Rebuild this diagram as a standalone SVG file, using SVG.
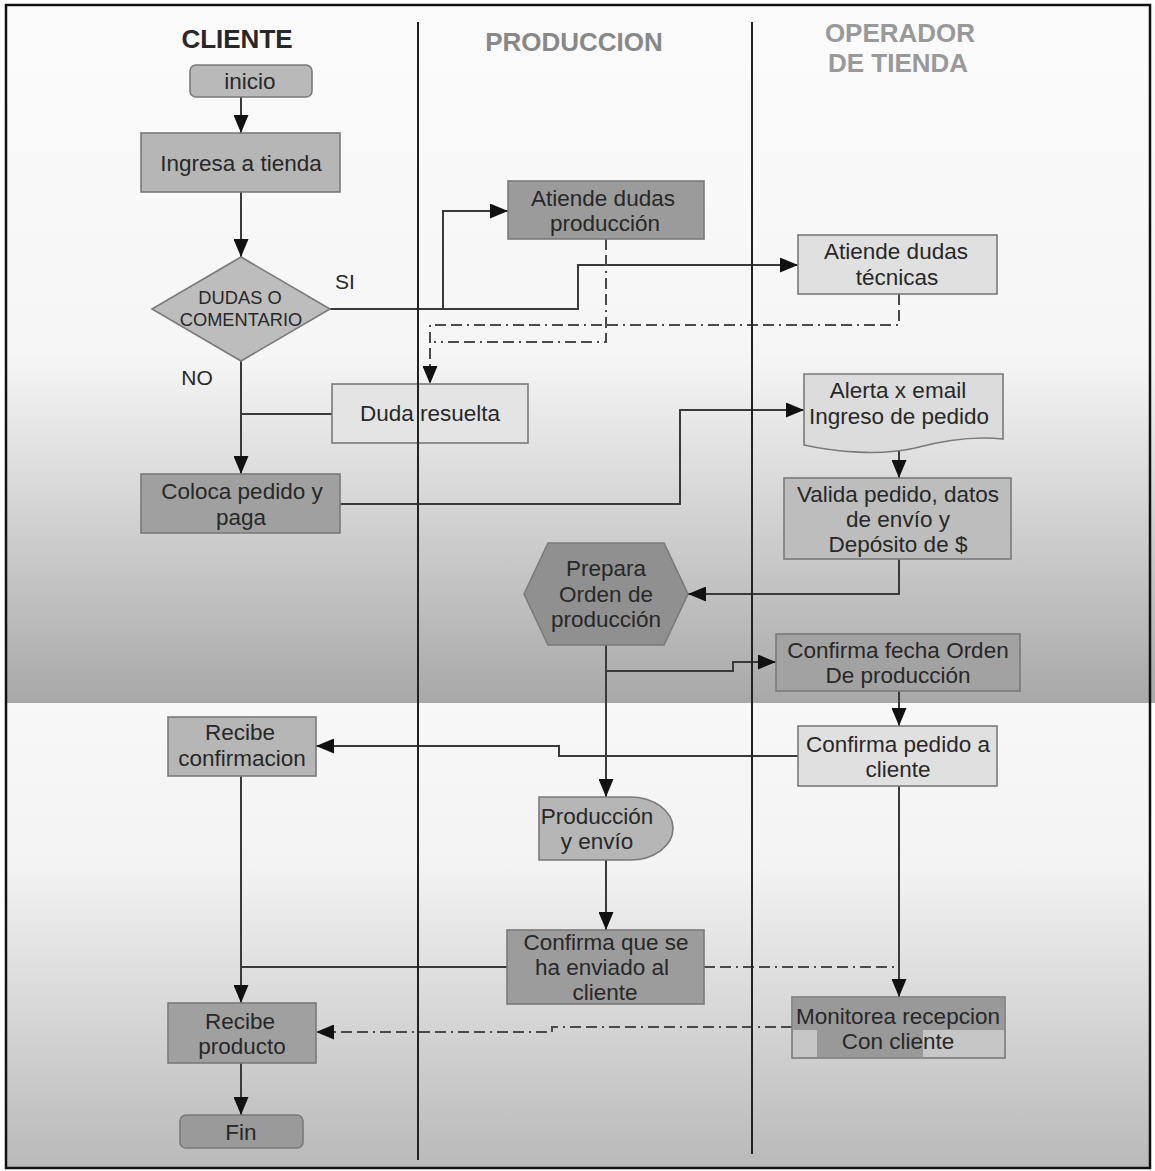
<svg xmlns="http://www.w3.org/2000/svg" width="1155" height="1171" viewBox="0 0 1155 1171">
<style>
text{font-family:"Liberation Sans",Arial,sans-serif;fill:#282828;text-anchor:middle;font-size:22.5px}
.hdr{font-size:26px;font-weight:bold}
.box{stroke:#7a7a7a;stroke-width:1.6}
.ln{fill:none;stroke:#3a3a3a;stroke-width:2}
.dash{fill:none;stroke:#4a4a4a;stroke-width:2;stroke-dasharray:11 5 11 5 2 5}
.lane{stroke:#222;stroke-width:2}
.small{font-size:18.3px}
.lbl{font-size:21px}
</style>
<defs>
<linearGradient id="g1" x1="0" y1="0" x2="0" y2="1">
<stop offset="0" stop-color="#fbfbfb"/>
<stop offset="0.5" stop-color="#f6f6f6"/>
<stop offset="0.62" stop-color="#e4e4e4"/>
<stop offset="1" stop-color="#a8a8a8"/>
</linearGradient>
<linearGradient id="g2" x1="0" y1="0" x2="0" y2="1">
<stop offset="0" stop-color="#f8f8f8"/>
<stop offset="0.35" stop-color="#f3f3f3"/>
<stop offset="1" stop-color="#b9b9b9"/>
</linearGradient>
<marker id="ar" markerUnits="userSpaceOnUse" markerWidth="18" markerHeight="15" refX="18" refY="7.5" orient="auto">
<path d="M0,0 L18,7.5 L0,15 Z" fill="#111"/>
</marker>
</defs>
<rect x="0" y="0" width="1155" height="1171" fill="#fff"/>
<rect x="6" y="5" width="1149" height="698" fill="url(#g1)"/>
<rect x="6" y="703" width="1144" height="465" fill="url(#g2)"/>
<rect x="6" y="5" width="1144" height="1163" fill="none" stroke="#111" stroke-width="2.5"/>

<g id="headers">
<text class="hdr" x="237" y="48">CLIENTE</text>
<text class="hdr" x="574" y="51" style="fill:#888">PRODUCCION</text>
<text class="hdr" x="900" y="42" style="fill:#999">OPERADOR</text>
<text class="hdr" x="898" y="72" style="fill:#999">DE TIENDA</text>
</g>

<g id="connectors">
<path class="ln" d="M241,97 V133" marker-end="url(#ar)"/>
<path class="ln" d="M241,192 V257" marker-end="url(#ar)"/>
<path class="ln" d="M330,309 H578 V265 H798" marker-end="url(#ar)"/>
<path class="ln" d="M443,309 V211 H508" marker-end="url(#ar)"/>
<path class="dash" d="M606,239 V342 H434"/>
<path class="dash" d="M899,294 V325 H430 V384" marker-end="url(#ar)"/>
<path class="ln" d="M241,361 V474" marker-end="url(#ar)"/>
<path class="ln" d="M332,414 H241"/>
<path class="ln" d="M340,504 H680 V410 H804" marker-end="url(#ar)"/>
<path class="ln" d="M899,446 V478" marker-end="url(#ar)"/>
<path class="ln" d="M899,559 V594 H688" marker-end="url(#ar)"/>
<path class="ln" d="M606,645 V797" marker-end="url(#ar)"/>
<path class="ln" d="M606,671 H733 V662 H776" marker-end="url(#ar)"/>
<path class="ln" d="M899,691 V726" marker-end="url(#ar)"/>
<path class="ln" d="M798,756 H559 V746 H316" marker-end="url(#ar)"/>
<path class="ln" d="M241,776 V1003" marker-end="url(#ar)"/>
<path class="ln" d="M507,967 H241"/>
<path class="ln" d="M606,860 V930" marker-end="url(#ar)"/>
<path class="ln" d="M899,786 V997" marker-end="url(#ar)"/>
<path class="dash" d="M704,967 H899"/>
<path class="dash" d="M792,1027 H552 V1032 H316" marker-end="url(#ar)"/>
<path class="ln" d="M241,1063 V1115" marker-end="url(#ar)"/>
</g>

<g id="inicio">
<rect class="box" x="190" y="65" width="122" height="32" rx="6" fill="#b9b9b9"/>
<text x="250" y="89">inicio</text>
</g>
<g id="ingresa">
<rect class="box" x="141" y="133" width="199" height="59" fill="#b6b6b6"/>
<text x="241" y="171">Ingresa a tienda</text>
</g>
<g id="dudas">
<polygon class="box" points="241,257 330,309 241,361 152,309" fill="#bdbdbd"/>
<text class="small" x="240" y="304">DUDAS O</text>
<text class="small" x="241" y="326">COMENTARIO</text>
</g>
<text class="lbl" x="345" y="289">SI</text>
<text class="lbl" x="197" y="385">NO</text>
<g id="atiende-prod">
<rect class="box" x="508" y="181" width="196" height="58" fill="#9b9b9b"/>
<text x="603" y="206">Atiende dudas</text>
<text x="605" y="231">producción</text>
</g>
<g id="atiende-tec">
<rect class="box" x="798" y="235" width="199" height="59" fill="#e0e0e0"/>
<text x="896" y="259">Atiende dudas</text>
<text x="897" y="285">técnicas</text>
</g>
<g id="duda-resuelta">
<rect class="box" x="332" y="384" width="196" height="59" fill="#e4e4e4"/>
<text x="430" y="421">Duda resuelta</text>
</g>
<g id="coloca">
<rect class="box" x="141" y="474" width="199" height="59" fill="#a0a0a0"/>
<text x="242" y="499">Coloca pedido y</text>
<text x="241" y="525">paga</text>
</g>
<g id="alerta">
<path class="box" d="M804,374 H1003 V439 C975,436 945,440 915,448 C880,456 835,452 804,445 Z" fill="#dcdcdc"/>
<text x="898" y="398">Alerta x email</text>
<text x="899" y="424">Ingreso de pedido</text>
</g>
<g id="valida">
<rect class="box" x="784" y="478" width="227" height="81" fill="#bdbdbd"/>
<text x="898" y="502">Valida pedido, datos</text>
<text x="898" y="527">de envío y</text>
<text x="898" y="552">Depósito de $</text>
</g>
<g id="prepara">
<polygon class="box" points="524,594 548,543 664,543 688,594 664,645 548,645" fill="#909090"/>
<text x="606" y="576">Prepara</text>
<text x="606" y="602">Orden de</text>
<text x="606" y="627">producción</text>
</g>
<g id="confirma-fecha">
<rect class="box" x="776" y="634" width="244" height="57" fill="#a2a2a2"/>
<text x="898" y="658">Confirma fecha Orden</text>
<text x="898" y="683">De producción</text>
</g>
<g id="recibe-conf">
<rect class="box" x="168" y="717" width="148" height="59" fill="#b6b6b6"/>
<text x="240" y="740">Recibe</text>
<text x="242" y="766">confirmacion</text>
</g>
<g id="confirma-pedido">
<rect class="box" x="798" y="726" width="199" height="60" fill="#e0e0e0"/>
<text x="898" y="752">Confirma pedido a</text>
<text x="898" y="777">cliente</text>
</g>
<g id="produccion-envio">
<path class="box" d="M539,797 H630 A43,31.5 0 0 1 630,860 H539 Z" fill="#b6b6b6"/>
<text x="597" y="824">Producción</text>
<text x="597" y="849">y envío</text>
</g>
<g id="confirma-envio">
<rect class="box" x="507" y="930" width="197" height="74" fill="#9c9c9c"/>
<text x="606" y="950">Confirma que se</text>
<text x="602" y="975">ha enviado al</text>
<text x="605" y="1000">cliente</text>
</g>
<g id="recibe-prod">
<rect class="box" x="168" y="1003" width="148" height="60" fill="#a0a0a0"/>
<text x="240" y="1029">Recibe</text>
<text x="242" y="1054">producto</text>
</g>
<g id="fin">
<rect class="box" x="180" y="1115" width="123" height="33" rx="6" fill="#9a9a9a"/>
<text x="241" y="1140">Fin</text>
</g>
<g id="monitorea">
<rect class="box" x="792" y="997" width="213" height="61" fill="#c6c6c6"/>
<rect x="793" y="998" width="211" height="32" fill="#999"/>
<rect x="817" y="1030" width="106" height="27" fill="#999"/>
<text x="898" y="1024">Monitorea recepcion</text>
<text x="898" y="1049">Con cliente</text>
</g>

<g id="lanes">
<line class="lane" x1="418" y1="22" x2="418" y2="1160"/>
<line class="lane" x1="752" y1="22" x2="752" y2="1154"/>
</g>
</svg>
